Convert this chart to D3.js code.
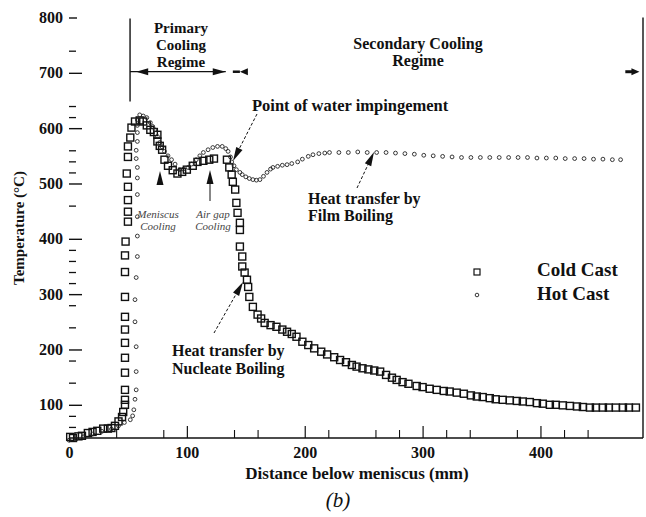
<!DOCTYPE html>
<html><head><meta charset="utf-8">
<script src="https://cdn.jsdelivr.net/npm/d3@7"></script>
<style>
body{margin:0;background:#fff}
svg{display:block}
text{font-family:"Liberation Serif","Times New Roman",serif;fill:#111}
</style>
</head><body>
<svg id="c" width="646" height="517"></svg>
<script>
// ---------- data ----------
const coldX = [1,3.4,8,11,16,20,24,29,33,36,39,42,45,46,47.5,47.5,47.5,47.5,47.5,47.5,47.5,47.5,47.5,47.5,47.5,48,50,50,50,50,49,50,50,52,53,56,60,63,66,69,72,75,75,77,79,81,84,88,92,96,100,105,109,114,119,123,134,136,138,139,141,142,143,145,145,145,147,147,149,151,152,153,156,160,163,166,171,176,181,185,189,193,198,203,208,214,219,225,230,235,240,244,249,254,259,264,269,274,278,283,288,295,300,306,312,318,323,329,335,341,346,351,357,362,368,374,380,385,391,397,402,408,413,419,425,431,436,442,447,453,458,464,470,475,481];
const coldY = [42,40,43,44,49,51,53,57,57,58,62,70,78,87,100,109,127,158,185,212,236,259,295,340,370,395,431,449,470,494,518,548,567,583,601,612,614,612,605,597,593,588,576,568,561,543,532,524,518,521,525,532,539,541,543,545,543,529,516,503,489,465,447,429,416,386,368,350,339,326,313,295,277,263,256,248,244,241,236,232,228,223,214,208,202,196,191,186,181,177,172,169,166,164,162,160,154,149,145,141,138,134,132,129,127,125,124,122,120,117,115,114,112,110,109,108,107,106,105,103,102,100,100,99,98,97,96,95,95,95,95,95,95,95,95];
const hotX = [0,6,12,20,28,36,42,47,52,54,55,56,57,57,57,56,56,57,58,58,58,58,58,58,57,57,58,58,58,58,60,63,66,69,71,73,75,77,79,81,84,87,90,94,97,101,104,108,111,114,118,122,126,130,133,135,137,138,140,142,145,147,150,153,156,159,162,165,168,171,173,177,181,185,189,194,198,203,207,212,217,221,229,237,245,253,261,269,277,285,293,301,309,317,325,333,341,349,357,365,373,381,389,397,405,413,421,429,437,445,453,461,468];
const hotY = [36,38,42,47,52,56,62,68,73,80,91,110,127,160,205,250,290,330,368,405,440,480,510,529,545,560,576,592,605,615,624,622,619,610,603,597,585,574,566,558,550,543,535,525,526,529,535,543,550,556,561,565,567,567,563,558,548,539,532,525,520,516,512,509,507,506,507,513,520,526,529,531,533,534,536,539,544,549,552,554,555,556,556,556,557,556,556,556,555,554,553,551,550,549,548,547,547,547,547,547,547,547,547,546,546,546,545,545,545,544,544,543,543];
const yMajorTicks = [100,200,300,400,500,600,700,800];
const yMinorTicks = [60,80,140,180,240,280,320,340,360,380,460,520,540,560,620,640,740];
const xMajorTicks = [0,100,200,300,400];
const xMinorTicks = [40,80,140,160,220,260,280,320,340,380,420,440];
const seriesNames = ["Cold Cast","Hot Cast"];

// ---------- scales ----------
const svg = d3.select("#c");
const x = d3.scaleLinear().domain([0,487]).range([69,643]);
const y = d3.scaleLinear().domain([40,800]).range([438,17.5]);

// ---------- axes ----------
const gy = svg.append("g").attr("transform","translate(69,0)")
  .call(d3.axisLeft(y).tickValues(yMajorTicks).tickSize(-13).tickPadding(6).tickFormat(d3.format("d")));
gy.select(".domain").remove();
gy.selectAll(".tick line").attr("stroke","#111").attr("stroke-width",1.4)
  .attr("x2",d=>d===800?8:13);
gy.selectAll(".tick text").style("font-size","16px").style("font-weight","bold")
  .style("font-family","'Liberation Serif',serif").attr("fill","#111");
const gym = svg.append("g").attr("transform","translate(69,0)")
  .call(d3.axisLeft(y).tickValues(yMinorTicks).tickSize(-7).tickFormat(""));
gym.select(".domain").remove();
gym.selectAll(".tick line").attr("stroke","#111").attr("stroke-width",1.3);

const gx = svg.append("g").attr("transform","translate(0,438)")
  .call(d3.axisBottom(x).tickValues(xMajorTicks).tickSize(-12).tickPadding(9).tickFormat(d3.format("d")));
gx.select(".domain").attr("stroke","#111").attr("stroke-width",1.3).attr("d","M69,0H643");
gx.selectAll(".tick line").attr("stroke","#111").attr("stroke-width",1.2).attr("opacity",d=>d===0?0:1);
gx.selectAll(".tick text").style("font-size","16px").style("font-weight","bold")
  .style("font-family","'Liberation Serif',serif").attr("fill","#111");
const gxm = svg.append("g").attr("transform","translate(0,438)")
  .call(d3.axisBottom(x).tickValues(xMinorTicks).tickSize(-8).tickFormat(""));
gxm.select(".domain").remove();
gxm.selectAll(".tick line").attr("stroke","#111").attr("stroke-width",1.1);

// right border
svg.append("line").attr("x1",643).attr("x2",643).attr("y1",y(800)).attr("y2",438)
  .attr("stroke","#111").attr("stroke-width",1.4);

// axis titles
svg.append("text").attr("transform","translate(21,228) rotate(-90)")
  .attr("text-anchor","middle").attr("dominant-baseline","middle")
  .style("font-size","15px").style("font-weight","bold").text("Temperature (°C)");
svg.append("text").attr("x",357).attr("y",475).attr("text-anchor","middle").attr("dominant-baseline","middle")
  .style("font-size","17px").style("font-weight","bold").text("Distance below meniscus (mm)");
svg.append("text").attr("x",338).attr("y",502).attr("text-anchor","middle").attr("dominant-baseline","middle")
  .style("font-size","21px").style("font-style","italic").text("(b)");

// ---------- series ----------
const cold = coldX.map((d,i)=>({x:d,y:coldY[i]}));
const hot = hotX.map((d,i)=>({x:d,y:hotY[i]}));
svg.append("g").selectAll("rect").data(cold).join("rect")
  .attr("x",d=>x(d.x)-3.5).attr("y",d=>y(d.y)-3.5).attr("width",7).attr("height",7)
  .attr("fill","none").attr("stroke","#111").attr("stroke-width",1.4);
svg.append("g").selectAll("circle").data(hot).join("circle")
  .attr("cx",d=>x(d.x)).attr("cy",d=>y(d.y)).attr("r",1.9)
  .attr("fill","none").attr("stroke","#222").attr("stroke-width",0.9);

// legend
svg.append("rect").attr("x",474).attr("y",269).attr("width",6).attr("height",6)
  .attr("fill","none").attr("stroke","#111").attr("stroke-width",1.2);
svg.append("circle").attr("cx",477).attr("cy",295).attr("r",1.8)
  .attr("fill","none").attr("stroke","#222").attr("stroke-width",0.9);
svg.append("text").attr("x",537).attr("y",272).attr("dominant-baseline","middle")
  .style("font-size","19px").style("font-weight","bold").text(seriesNames[0]);
svg.append("text").attr("x",537).attr("y",296).attr("dominant-baseline","middle")
  .style("font-size","19px").style("font-weight","bold").text(seriesNames[1]);

// ---------- annotations ----------
const ink = "#111";
function tri(tipX,tipY,dir,len,half){
  const [ux,uy]=dir, bx=tipX-ux*len, by=tipY-uy*len, px=-uy*half, py=ux*half;
  svg.append("path").attr("d",`M${tipX},${tipY}L${bx+px},${by+py}L${bx-px},${by-py}Z`).attr("fill",ink);
}
function arrow(x1,y1,x2,y2,dash){
  const dx=x2-x1, dy=y2-y1, L=Math.hypot(dx,dy), u=[dx/L,dy/L];
  svg.append("line").attr("x1",x1).attr("y1",y1).attr("x2",x2-u[0]*10).attr("y2",y2-u[1]*10)
    .attr("stroke",ink).attr("stroke-width",1).attr("stroke-dasharray",dash||null);
  tri(x2,y2,u,14,3.5);
}
svg.append("line").attr("x1",x(51.8)).attr("x2",x(51.8)).attr("y1",y(798)).attr("y2",y(648))
  .attr("stroke",ink).attr("stroke-width",1.4);
const ry = y(702);
svg.append("line").attr("x1",x(51.8)).attr("x2",x(133)).attr("y1",ry).attr("y2",ry).attr("stroke",ink).attr("stroke-width",1.3);
tri(x(57),ry,[-1,0],12,3.5);
tri(x(133),ry,[1,0],13,3.5);
svg.append("line").attr("x1",x(139)).attr("x2",x(145)).attr("y1",ry).attr("y2",ry).attr("stroke",ink).attr("stroke-width",2.5);
tri(x(145),ry,[-1,0],8,3.5);
svg.append("line").attr("x1",x(472)).attr("x2",x(478)).attr("y1",ry).attr("y2",ry).attr("stroke",ink).attr("stroke-width",3);
tri(x(484),ry,[1,0],8,3.5);

function lines(txt,xp,yp,size,anchor,style,weight,lh){
  const t=svg.append("text").attr("x",xp).attr("y",yp).attr("text-anchor",anchor)
    .style("font-size",size+"px").style("font-weight",weight).style("font-style",style);
  txt.forEach((s,i)=>t.append("tspan").attr("x",xp).attr("dy",i?lh:"0.35em").text(s));
  return t;
}
lines(["Primary","Cooling","Regime"],181,28,15,"middle","normal","bold",17);
lines(["Secondary Cooling","Regime"],418,43,16,"middle","normal","bold",17);
lines(["Point of water impingement"],252,105,16.5,"start","normal","bold",17);
lines(["Heat transfer by","Film Boiling"],308,198,16,"start","normal","bold",17);
lines(["Heat transfer by","Nucleate Boiling"],172,350,16,"start","normal","bold",18);
lines(["Meniscus","Cooling"],158,214,11,"middle","italic","normal",12).style("fill","#444");
lines(["Air gap","Cooling"],213,214,11,"middle","italic","normal",12).style("fill","#444");

arrow(257,114,233,161,"3,2");
arrow(357,188,374,152,"3,2");
arrow(214,333,243,282,"3,2");
tri(160,171,[0,-1],14,3.5);
svg.append("line").attr("x1",210).attr("x2",210).attr("y1",180).attr("y2",201).attr("stroke",ink).attr("stroke-width",1);
tri(210,170,[0,-1],14,3.5);
</script>
</body></html>
